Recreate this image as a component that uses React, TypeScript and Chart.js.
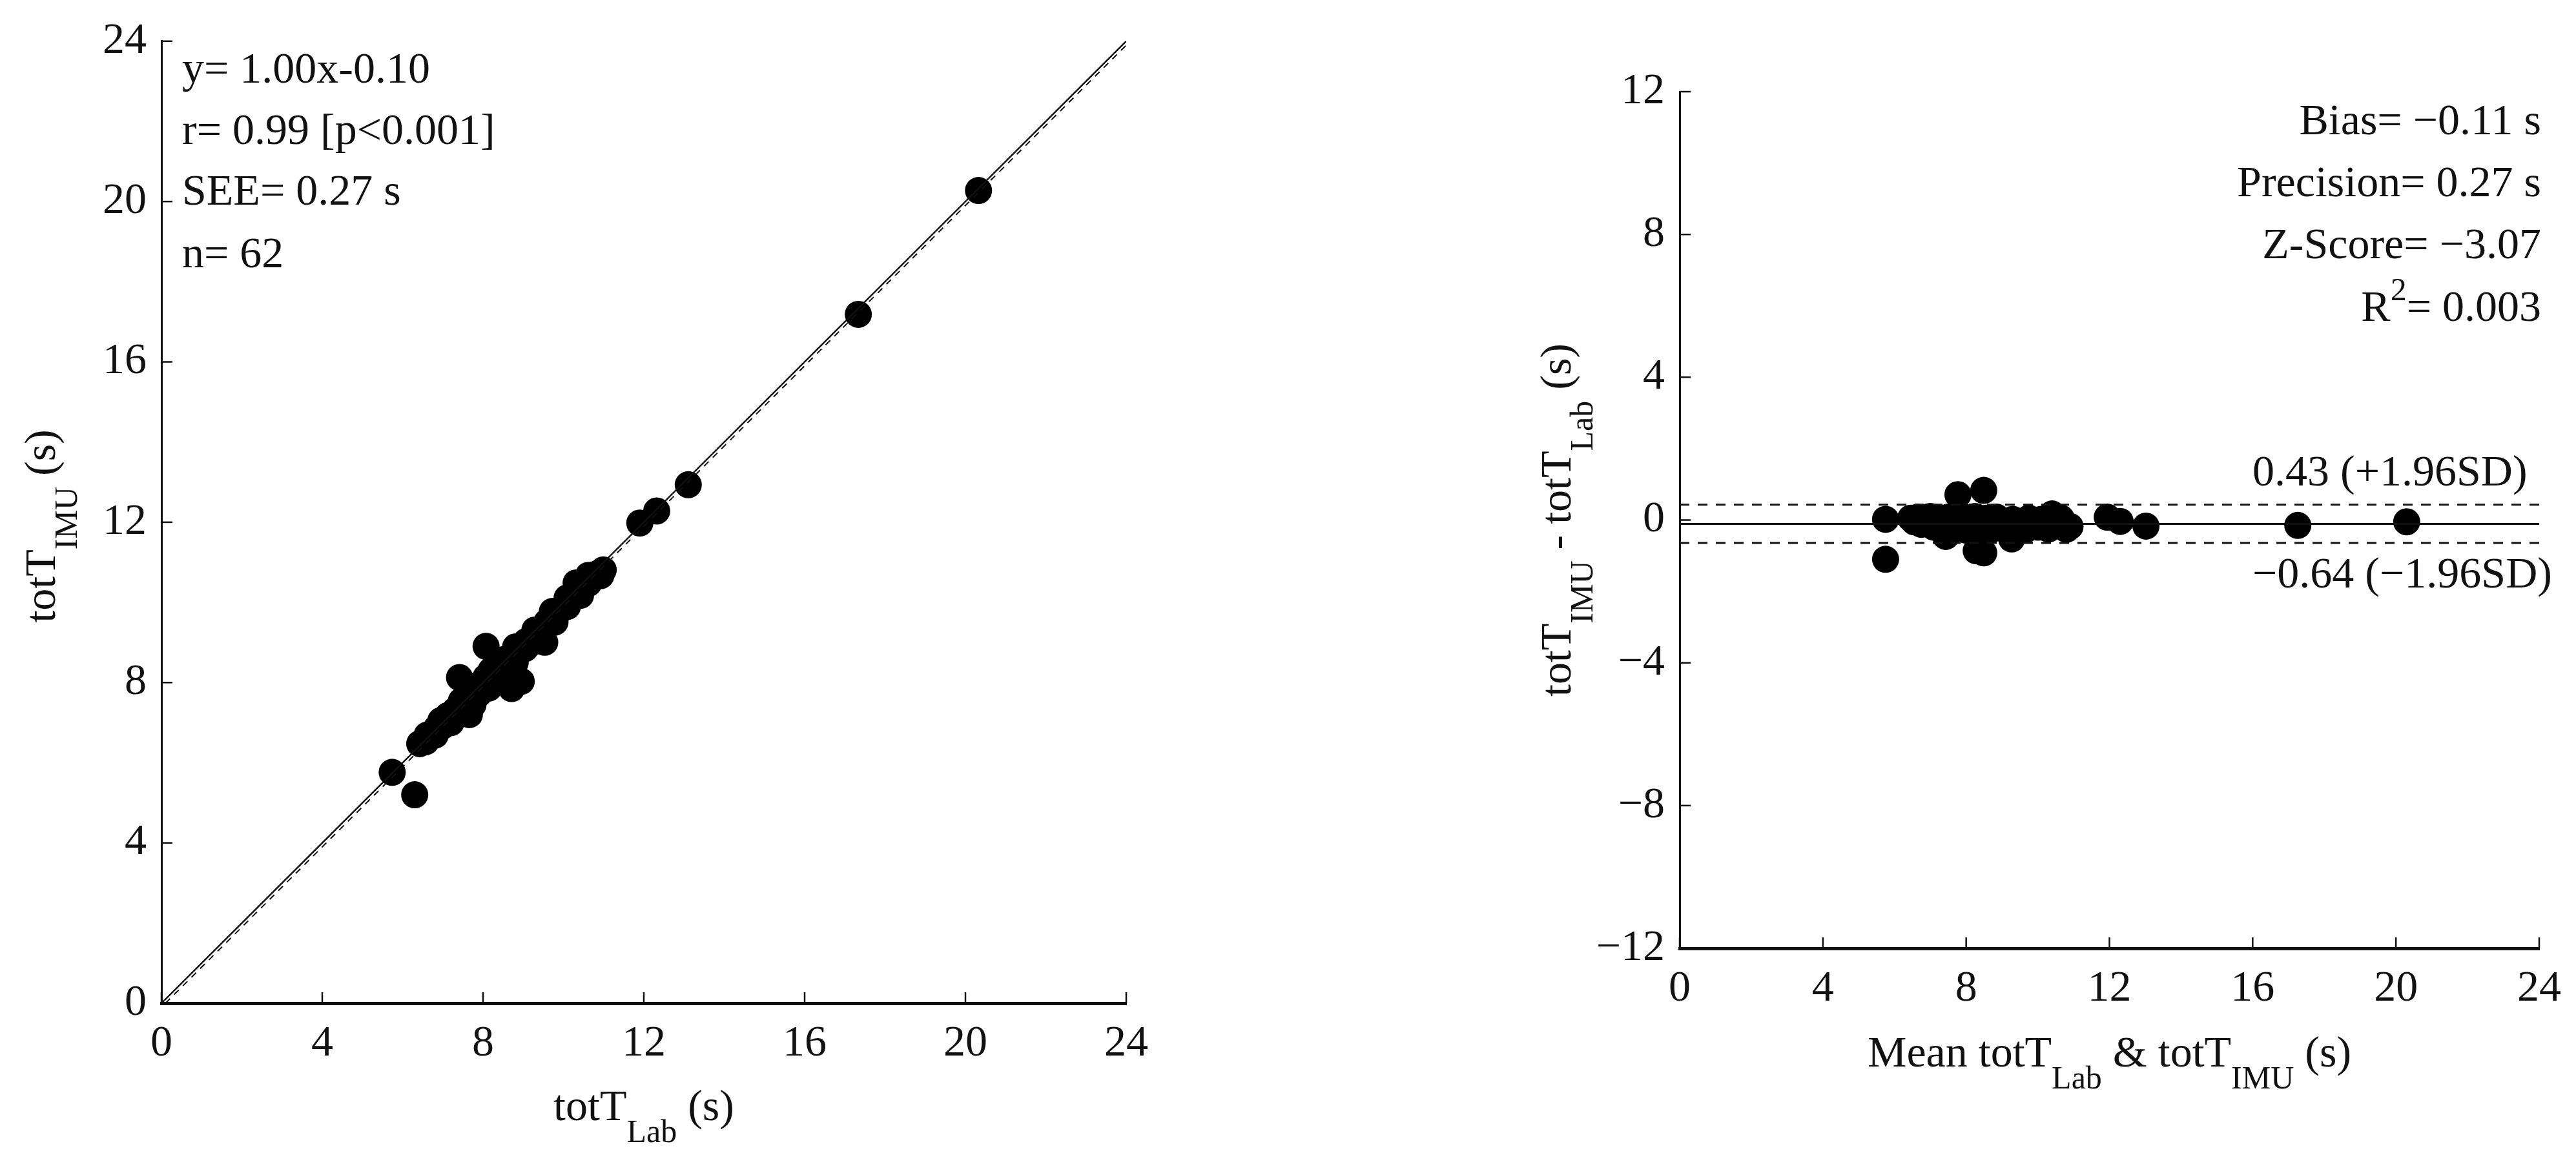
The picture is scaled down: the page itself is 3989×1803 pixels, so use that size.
import React, { useEffect, useRef } from 'react';
import { Chart, registerables } from 'chart.js';
Chart.register(...registerables);

// ---- data (mean of methods, IMU - Lab difference) ----
const meanVals = [
  5.75, 5.75, 6.45, 6.55, 6.65, 6.75, 6.85, 6.95, 7.0, 7.1, 7.15, 7.25, 7.3, 7.4, 7.43, 7.5,
  7.55, 7.6, 7.7, 7.77, 7.8, 7.85, 7.95, 8.0, 8.1, 8.15, 8.25, 8.28, 8.35, 8.4, 8.49, 8.49,
  8.55, 8.65, 8.75, 8.85, 8.95, 9.05, 9.15, 9.27, 9.3, 9.4, 9.55, 9.65, 9.75, 9.9, 10.0, 10.1,
  10.2, 10.3, 10.4, 10.45, 10.55, 10.65, 10.75, 10.8, 10.9, 11.94, 12.3, 13.02, 17.26, 20.3,
];
const diffVals = [
  0.02, -1.1, 0.05, -0.05, 0.08, -0.12, 0.02, -0.08, 0.1, -0.2, 0.05, -0.15, 0.0, -0.25, -0.46, 0.08,
  -0.1, -0.3, 0.02, 0.71, -0.18, 0.12, -0.05, -0.28, 0.06, -0.15, 0.1, -0.86, -0.22, -0.02, 0.83, -0.92,
  0.05, -0.3, -0.12, 0.08, -0.2, -0.05, -0.25, -0.53, 0.02, -0.15, -0.08, -0.28, 0.05, -0.12, -0.2, 0.02,
  -0.1, -0.25, 0.17, -0.05, -0.15, 0.05, -0.1, -0.26, -0.18, 0.08, -0.04, -0.17, -0.15, -0.05,
];

const axisTicks = [0, 4, 8, 12, 16, 20, 24];
const diffTicks = [-12, -8, -4, 0, 4, 8, 12];
const identityLine = [0, 24];
const regSlope = 1.0;
const regIntercept = -0.1;
const regRange = [0.1, 24];
const biasVal = -0.11;
const upperLoA = 0.43;
const lowerLoA = -0.64;

const leftStats = ['y= 1.00x-0.10', 'r= 0.99 [p<0.001]', 'SEE= 0.27 s', 'n= 62'];
const upperLabel = '0.43 (+1.96SD)';
const lowerLabel = '\u22120.64 (\u22121.96SD)';

const FAMILY = '"Liberation Serif", "Times New Roman", serif';
const MAIN = 68;
const SMALL = 50;
const INK = '#111111';
const f = (s: number) => `${s}px ${FAMILY}`;

type Part = { t: string; k?: 'sub' | 'sup' };

function drawRich(ctx: CanvasRenderingContext2D, parts: Part[], x: number, y: number, align: 'left' | 'center' | 'right') {
  ctx.save();
  ctx.fillStyle = INK;
  ctx.textBaseline = 'alphabetic';
  ctx.textAlign = 'left';
  const widths = parts.map((p) => {
    ctx.font = f(p.k ? SMALL : MAIN);
    return ctx.measureText(p.t).width;
  });
  const total = widths.reduce((a, b) => a + b, 0);
  let cx = align === 'left' ? x : align === 'center' ? x - total / 2 : x - total;
  parts.forEach((p, i) => {
    ctx.font = f(p.k ? SMALL : MAIN);
    const dy = p.k === 'sub' ? 34 : p.k === 'sup' ? -32 : 0;
    ctx.fillText(p.t, cx, y + dy);
    cx += widths[i];
  });
  ctx.restore();
}

function drawRotated(ctx: CanvasRenderingContext2D, parts: Part[], x: number, y: number) {
  ctx.save();
  ctx.translate(x, y);
  ctx.rotate(-Math.PI / 2);
  drawRich(ctx, parts, 0, 0, 'center');
  ctx.restore();
}

const fmt = (v: number | string) => {
  const n = Number(v);
  return n < 0 ? '\u2212' + Math.abs(n) : String(n);
};

const inwardTicks = {
  id: 'inwardTicks',
  afterDraw(chart: any) {
    const { ctx, chartArea, scales } = chart;
    ctx.save();
    ctx.strokeStyle = INK;
    ctx.lineWidth = 2.5;
    const len = 17;
    scales.x.ticks.forEach((t: any) => {
      const px = scales.x.getPixelForValue(t.value);
      ctx.beginPath();
      ctx.moveTo(px, chartArea.bottom);
      ctx.lineTo(px, chartArea.bottom - len);
      ctx.stroke();
    });
    scales.y.ticks.forEach((t: any) => {
      const py = scales.y.getPixelForValue(t.value);
      ctx.beginPath();
      ctx.moveTo(chartArea.left, py);
      ctx.lineTo(chartArea.left + len, py);
      ctx.stroke();
    });
    ctx.restore();
  },
};

function makeScale(ticksArr: number[], isX: boolean, fixed: number) {
  return {
    type: 'linear',
    min: ticksArr[0],
    max: ticksArr[ticksArr.length - 1],
    afterBuildTicks: (scale: any) => {
      scale.ticks = ticksArr.map((v) => ({ value: v }));
    },
    afterFit: (scale: any) => {
      if (isX) scale.height = fixed;
      else scale.width = fixed;
    },
    grid: { display: false, drawTicks: false },
    border: { display: true, color: INK, width: isX ? 5 : 3 },
    ticks: {
      color: INK,
      padding: isX ? 22 : 23,
      font: { family: FAMILY, size: MAIN },
      callback: (v: any) => fmt(v),
      autoSkip: false,
      maxRotation: 0,
    },
    title: { display: false },
  };
}

function LeftChart() {
  const ref = useRef<HTMLCanvasElement>(null);
  useEffect(() => {
    const pts = meanVals.map((m, i) => ({ x: m - diffVals[i] / 2, y: m + diffVals[i] / 2 }));
    const annot = {
      id: 'leftAnnot',
      afterDraw(chart: any) {
        const { ctx, chartArea: ca } = chart;
        const offs = [64, 159, 253, 350];
        leftStats.forEach((s, i) => drawRich(ctx, [{ t: s }], ca.left + 32, ca.top + offs[i], 'left'));
        drawRich(ctx, [{ t: 'totT' }, { t: 'Lab', k: 'sub' }, { t: ' (s)' }], (ca.left + ca.right) / 2, ca.bottom + 181, 'center');
        drawRotated(ctx, [{ t: 'totT' }, { t: 'IMU', k: 'sub' }, { t: ' (s)' }], ca.left - 165, (ca.top + ca.bottom) / 2 + 6);
      },
    };
    const chart = new Chart(ref.current as HTMLCanvasElement, {
      type: 'scatter',
      data: {
        datasets: [
          {
            type: 'line',
            data: identityLine.map((v) => ({ x: v, y: v })),
            borderColor: INK,
            borderWidth: 2.5,
            pointRadius: 0,
            fill: false,
          } as any,
          {
            type: 'line',
            data: regRange.map((v) => ({ x: v, y: regSlope * v + regIntercept })),
            borderColor: INK,
            borderWidth: 2,
            borderDash: [10, 9],
            pointRadius: 0,
            fill: false,
          } as any,
          {
            data: pts,
            pointRadius: 21,
            pointBackgroundColor: '#000',
            pointBorderWidth: 0,
            pointHoverRadius: 21,
          },
        ],
      },
      options: {
        responsive: false,
        animation: false,
        events: [],
        layout: { padding: { left: 0, top: 59, right: 206, bottom: 0 } },
        plugins: { legend: { display: false }, tooltip: { enabled: false } },
        scales: {
          x: makeScale(axisTicks, true, 249) as any,
          y: makeScale(axisTicks, false, 250) as any,
        },
      },
      plugins: [inwardTicks, annot],
    });
    return () => chart.destroy();
  }, []);
  return <canvas ref={ref} width={1950} height={1803} style={{ display: 'block' }} />;
}

function RightChart() {
  const ref = useRef<HTMLCanvasElement>(null);
  useEffect(() => {
    const pts = meanVals.map((m, i) => ({ x: m, y: diffVals[i] }));
    const hline = (v: number, dash: number[]) =>
      ({
        type: 'line',
        data: [
          { x: axisTicks[0], y: v },
          { x: axisTicks[axisTicks.length - 1], y: v },
        ],
        borderColor: INK,
        borderWidth: 3,
        borderDash: dash,
        pointRadius: 0,
        fill: false,
      } as any);
    const annot = {
      id: 'rightAnnot',
      afterDraw(chart: any) {
        const { ctx, chartArea: ca, scales } = chart;
        const rx = ca.right + 3;
        drawRich(ctx, [{ t: 'Bias= \u22120.11 s' }], rx, ca.top + 66, 'right');
        drawRich(ctx, [{ t: 'Precision= 0.27 s' }], rx, ca.top + 162, 'right');
        drawRich(ctx, [{ t: 'Z-Score= \u22123.07' }], rx, ca.top + 258, 'right');
        drawRich(ctx, [{ t: 'R' }, { t: '2', k: 'sup' }, { t: '= 0.003' }], rx, ca.top + 355, 'right');
        const lx = ca.left + 887;
        drawRich(ctx, [{ t: upperLabel }], lx, scales.y.getPixelForValue(upperLoA) - 30, 'left');
        drawRich(ctx, [{ t: lowerLabel }], lx, scales.y.getPixelForValue(lowerLoA) + 69, 'left');
        drawRich(
          ctx,
          [{ t: 'Mean totT' }, { t: 'Lab', k: 'sub' }, { t: ' & totT' }, { t: 'IMU', k: 'sub' }, { t: ' (s)' }],
          (ca.left + ca.right) / 2,
          ca.bottom + 183,
          'center'
        );
        drawRotated(
          ctx,
          [{ t: 'totT' }, { t: 'IMU', k: 'sub' }, { t: ' - totT' }, { t: 'Lab', k: 'sub' }, { t: ' (s)' }],
          ca.left - 169,
          (ca.top + ca.bottom) / 2
        );
      },
    };
    const chart = new Chart(ref.current as HTMLCanvasElement, {
      type: 'scatter',
      data: {
        datasets: [
          hline(biasVal, []),
          hline(upperLoA, [15, 13]),
          hline(lowerLoA, [15, 13]),
          {
            data: pts,
            pointRadius: 21,
            pointBackgroundColor: '#000',
            pointBorderWidth: 0,
            pointHoverRadius: 21,
          },
        ],
      },
      options: {
        responsive: false,
        animation: false,
        events: [],
        layout: { padding: { left: 0, top: 142, right: 57, bottom: 0 } },
        plugins: { legend: { display: false }, tooltip: { enabled: false } },
        scales: {
          x: makeScale(axisTicks, true, 334) as any,
          y: makeScale(diffTicks, false, 651) as any,
        },
      },
      plugins: [inwardTicks, annot],
    });
    return () => chart.destroy();
  }, []);
  return <canvas ref={ref} width={2039} height={1803} style={{ display: 'block' }} />;
}

export default function App() {
  return (
    <div style={{ position: 'absolute', left: 0, top: 0, width: 3989, height: 1803, background: '#fff', overflow: 'hidden' }}>
      <div style={{ position: 'absolute', left: 0, top: 0 }}>
        <LeftChart />
      </div>
      <div style={{ position: 'absolute', left: 1950, top: 0 }}>
        <RightChart />
      </div>
    </div>
  );
}
